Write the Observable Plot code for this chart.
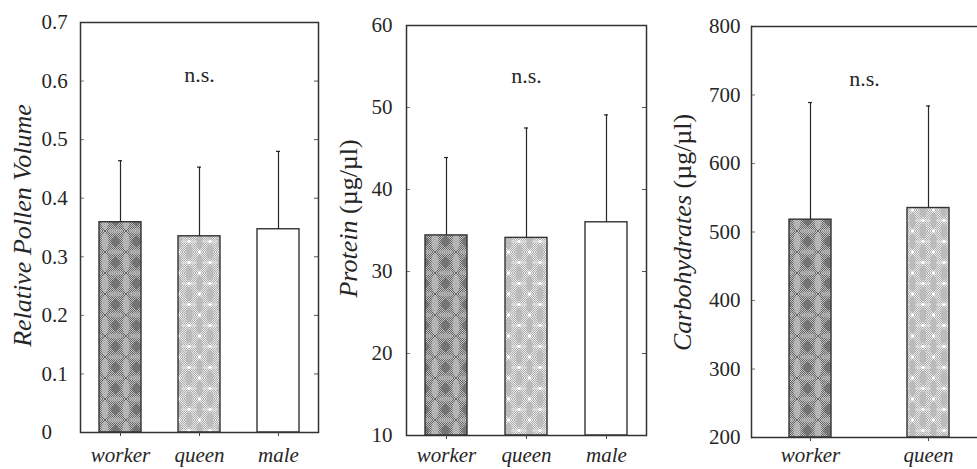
<!DOCTYPE html>
<html><head><meta charset="utf-8">
<script src="https://cdn.jsdelivr.net/npm/d3@7"></script>
<script src="https://cdn.jsdelivr.net/npm/@observablehq/plot@0.6"></script>
<style>
html,body{margin:0;padding:0;background:#fff;overflow:hidden}
#wrap{position:relative;width:977px;height:469px;overflow:hidden;background:#fff}
.panel{position:absolute;top:0}
.panel svg{display:block}
svg [aria-label="x-axis tick label"] text{font-style:italic}
</style></head><body>
<svg width="0" height="0" style="position:absolute">
<defs>
  <pattern id="ditherDark" width="2" height="2" patternUnits="userSpaceOnUse">
    <rect width="2" height="2" fill="#c4c4c4"/>
    <rect width="1" height="1" fill="#626262"/>
    <rect x="1" y="1" width="1" height="1" fill="#626262"/>
  </pattern>
  <pattern id="pw" width="21" height="21" patternUnits="userSpaceOnUse">
    <rect width="21" height="21" fill="url(#ditherDark)"/>
    <ellipse cx="0" cy="10.5" rx="3.5" ry="9" fill="#bababa" opacity="0.85"/>
    <ellipse cx="21" cy="10.5" rx="3.5" ry="9" fill="#bababa" opacity="0.85"/>
    <ellipse cx="10.5" cy="0" rx="8" ry="2.5" fill="#b4b4b4" opacity="0.7"/>
    <ellipse cx="10.5" cy="21" rx="8" ry="2.5" fill="#b4b4b4" opacity="0.7"/>
    <path d="M10.5,4 L15.5,10.5 L10.5,17 L5.5,10.5Z" fill="#6e6e6e" opacity="0.85"/>
  </pattern>
  <pattern id="ditherLight" width="2" height="2" patternUnits="userSpaceOnUse">
    <rect width="2" height="2" fill="#ececec"/>
    <rect width="1" height="1" fill="#ababab"/>
    <rect x="1" y="1" width="1" height="1" fill="#ababab"/>
  </pattern>
  <pattern id="pq" width="21" height="21" patternUnits="userSpaceOnUse">
    <rect width="21" height="21" fill="url(#ditherLight)"/>
    <ellipse cx="10.5" cy="10.5" rx="3.5" ry="7.5" fill="#bbbbbb"/>
    <ellipse cx="0" cy="0" rx="3.5" ry="7.5" fill="#bbbbbb"/>
    <ellipse cx="21" cy="0" rx="3.5" ry="7.5" fill="#bbbbbb"/>
    <ellipse cx="0" cy="21" rx="3.5" ry="7.5" fill="#bbbbbb"/>
    <ellipse cx="21" cy="21" rx="3.5" ry="7.5" fill="#bbbbbb"/>
    <ellipse cx="5" cy="10.5" rx="3" ry="1.5" fill="#d8d8d8"/>
    <ellipse cx="16" cy="10.5" rx="3" ry="1.5" fill="#d8d8d8"/>
    <circle cx="0" cy="10.5" r="1.8" fill="#ffffff"/>
    <circle cx="21" cy="10.5" r="1.8" fill="#ffffff"/>
    <circle cx="10.5" cy="0" r="1.8" fill="#ffffff"/>
    <circle cx="10.5" cy="21" r="1.8" fill="#ffffff"/>
  </pattern>
</defs>
</svg>
<div id="wrap"></div>
<script>
// ---- data ----
const categories = ["worker", "queen", "male"];
const barFills = ["url(#pw)", "url(#pq)", "#ffffff"];

const pollenMean = [0.359, 0.335, 0.347];
const pollenErr  = [0.105, 0.118, 0.133];
const pollenTicks = [0, 0.1, 0.2, 0.3, 0.4, 0.5, 0.6, 0.7];
const pollenTickLabels = ["0", "0.1", "0.2", "0.3", "0.4", "0.5", "0.6", "0.7"];

const proteinMean = [34.4, 34.1, 36.0];
const proteinErr  = [9.5, 13.4, 13.1];
const proteinTicks = [10, 20, 30, 40, 50, 60];
const proteinTickLabels = ["10", "20", "30", "40", "50", "60"];

const carbCategories = ["worker", "queen"];
const carbMean = [518, 535];
const carbErr  = [171, 149];
const carbTicks = [200, 300, 400, 500, 600, 700, 800];
const carbTickLabels = ["200", "300", "400", "500", "600", "700", "800"];

const sigLabel = "n.s.";

// ---- drawing ----
const ink = "#262626";
function panel(o) {
  const data = o.cats.map((c, i) => ({cat: c, mean: o.means[i], top: o.means[i] + o.errs[i]}));
  const fw = o.width - o.ml - o.mr;
  const labelOf = new Map(o.ticks.map((t, i) => [t, o.labels[i]]));
  const y0 = o.ticks[0], y1 = o.ticks[o.ticks.length - 1];
  const capInset = 19;
  const marks = [
    Plot.barY(data, {x: "cat", y1: y0, y2: "mean", fill: "cat", stroke: "#333", strokeWidth: 1.4}),
    Plot.ruleX(data, {x: "cat", y1: "mean", y2: "top", stroke: ink, strokeWidth: 1.2}),
    Plot.tickY(data, {x: "cat", y: "top", insetLeft: capInset, insetRight: capInset, stroke: ink, strokeWidth: 1.2}),
    Plot.tickY(o.ticks, {y: d => d, insetRight: fw - 4, stroke: "#777"}),
  ];
  if (o.rightTicks) marks.push(Plot.tickY(o.ticks, {y: d => d, insetLeft: fw - 4, stroke: "#555"}));
  if (o.openRight) {
    marks.push(Plot.ruleY([y0, y1], {y: d => d, stroke: "#333", strokeWidth: 1.5}));
    marks.push(Plot.frame({anchor: "left", stroke: "#333", strokeWidth: 1.5}));
  } else {
    marks.push(Plot.frame({stroke: "#333", strokeWidth: 1.5}));
  }
  const yAxisOpts = {ticks: o.ticks, tickFormat: d => labelOf.get(d), tickSize: 0, tickPadding: o.tpy, fontSize: 21, fill: ink, label: null};
  if (o.yAnchorStart) yAxisOpts.textAnchor = "start";
  marks.push(
    Plot.axisY(yAxisOpts),
    Plot.axisX({tickSize: 4, tickPadding: o.tpx, fontSize: 21, fontStyle: "italic", fill: ink, stroke: "#444", label: null}),
    Plot.text([sigLabel], {text: d => d, y: o.nsY, fontSize: 22, fill: ink})
  );
  if (o.title2) {
    marks.push(
      Plot.text([o.title1], {text: d => d, frameAnchor: "left", rotate: -90, textAnchor: "end", dx: o.tdx, dy: o.tdy, fontSize: 26, fontStyle: "italic", fill: ink}),
      Plot.text([o.title2], {text: d => d, frameAnchor: "left", rotate: -90, textAnchor: "start", dx: o.tdx, dy: o.tdy, fontSize: 26, fill: ink})
    );
  } else {
    marks.push(Plot.text([o.title1], {text: d => d, frameAnchor: "left", rotate: -90, textAnchor: "middle", dx: o.tdx, dy: o.tdy, fontSize: 26, fontStyle: "italic", fill: ink}));
  }
  const xOpts = {type: "band", domain: o.cats, paddingInner: o.pi, paddingOuter: o.po, axis: null};
  if (o.xRange) xOpts.range = o.xRange;
  const chart = Plot.plot({
    width: o.width, height: 469,
    marginLeft: o.ml, marginRight: o.mr, marginTop: o.mt, marginBottom: o.mb,
    style: {fontFamily: "'Liberation Serif', serif", fontSize: "21px", color: ink, background: "transparent", overflow: "visible"},
    x: xOpts,
    y: {domain: [y0, y1], axis: null},
    color: {domain: categories, range: barFills},
    marks
  });
  const div = document.createElement("div");
  div.className = "panel";
  div.style.left = o.left + "px";
  div.style.width = o.width + "px";
  div.appendChild(chart);
  document.getElementById("wrap").appendChild(div);
}

panel({left: 0, width: 330, ml: 80, mr: 12, mt: 22, mb: 37,
  cats: categories, means: pollenMean, errs: pollenErr, ticks: pollenTicks, labels: pollenTickLabels,
  pi: 0.47, po: 0.235, tpy: 39, yAnchorStart: true, tpx: 11, nsY: 0.61, rightTicks: true,
  title1: "Relative Pollen Volume", tdx: -58, tdy: -2});

panel({left: 330, width: 330, ml: 76, mr: 14, mt: 25, mb: 34,
  cats: categories, means: proteinMean, errs: proteinErr, ticks: proteinTicks, labels: proteinTickLabels,
  pi: 0.47, po: 0.235, tpy: 14, tpx: 8, nsY: 53.8, rightTicks: true,
  title1: "Protein", title2: "\u00a0(\u00b5g/\u00b5l)", tdx: -58, tdy: -10});

panel({left: 650, width: 327, ml: 101, mr: 0, mt: 26, mb: 32,
  cats: carbCategories, means: carbMean, errs: carbErr, ticks: carbTicks, labels: carbTickLabels,
  xRange: [101, 338], pi: 0.64, po: 0.32, tpy: 11, tpx: 6, nsY: 724, rightTicks: false, openRight: true,
  title1: "Carbohydrates", title2: "\u00a0(\u00b5g/\u00b5l)", tdx: -69, tdy: -37});
</script>
</body></html>
